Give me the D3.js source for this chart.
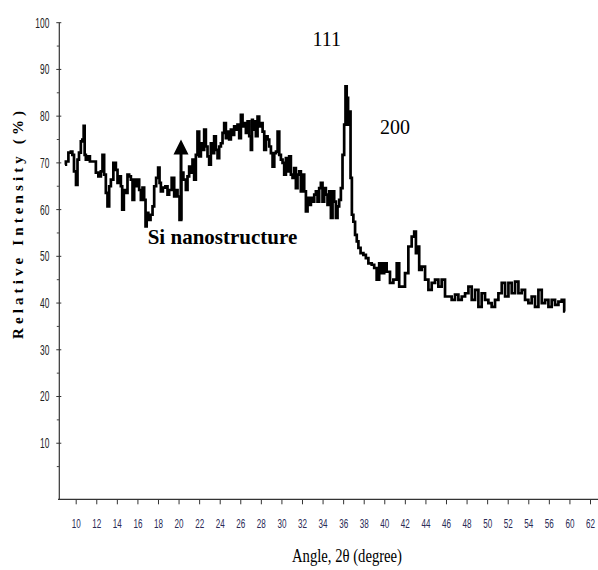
<!DOCTYPE html>
<html>
<head>
<meta charset="utf-8">
<script src="https://cdn.jsdelivr.net/npm/d3@7"></script>
<style>
  body { margin: 0; background: #fff; }
  svg { display: block; }
</style>
</head>
<body>
<div id="chart"></div>
<script>
var width = 598,
    height = 570;

// x tick labels as printed on the original axis (note: 58 is missing)
var tickLabels = ["10", "12", "14", "16", "18", "20", "22", "24", "26", "28", "30", "32", "34",
    "36", "38", "40", "42", "44", "46", "48", "50", "52", "54", "56", "60", "62"];
var yMajor = [10, 20, 30, 40, 50, 60, 70, 80, 90, 100];
var yMinor = [5, 15, 25, 35, 45, 55, 65, 75, 85, 95];

// XRD pattern: angle (2theta) and relative intensity (%)
var angle = [8.96, 9.13, 9.45, 9.61, 9.74, 9.93, 10.13, 10.22, 10.42, 10.58, 10.71, 10.84, 10.90, 11.07, 11.20,
    11.56, 11.88, 12.04, 12.36, 12.53, 12.68, 12.85, 13.01, 13.17, 13.34, 13.50, 13.82, 13.99, 14.14, 14.31,
    14.47, 14.57, 14.79, 14.96, 15.11, 15.28, 15.45, 15.60, 15.77, 15.93, 16.09, 16.25, 16.42, 16.57, 16.74,
    16.84, 16.96, 17.16, 17.39, 17.55, 17.71, 17.93, 18.10, 18.20, 18.36, 18.59, 18.85, 19.00, 19.17, 19.49,
    19.66, 19.82, 19.98, 20.21, 20.31, 20.63, 20.79, 20.95, 21.11, 21.28, 21.43, 21.60, 21.76, 21.92, 22.09,
    22.25, 22.41, 22.57, 22.74, 22.89, 23.06, 23.22, 23.38, 23.54, 23.71, 23.87, 24.03, 24.20, 24.35, 24.52,
    24.68, 24.84, 25.00, 25.17, 25.32, 25.49, 25.65, 25.81, 25.98, 26.14, 26.30, 26.46, 26.63, 26.79, 26.95,
    27.11, 27.17, 27.27, 27.43, 27.60, 27.76, 27.92, 28.09, 28.25, 28.41, 28.58, 28.73, 28.90, 29.06, 29.22,
    29.39, 29.55, 29.71, 29.87, 30.03, 30.19, 30.35, 30.52, 30.67, 30.84, 31.00, 31.16, 31.32, 31.49, 31.64,
    31.81, 31.97, 32.13, 32.30, 32.46, 32.62, 32.78, 32.95, 33.11, 33.27, 33.43, 33.59, 33.75, 33.92, 34.07,
    34.24, 34.40, 34.56, 34.73, 34.89, 35.05, 35.21, 35.38, 35.53, 35.70, 35.86, 36.02, 36.18, 36.28, 36.41,
    36.55, 36.67, 36.77, 36.93, 37.06, 37.26, 37.39, 37.58, 37.81, 38.13, 38.29, 38.62, 38.94, 39.10, 39.42,
    39.59, 39.91, 40.07, 40.39, 40.72, 41.05, 41.37, 41.53, 41.85, 42.18, 42.50, 42.83, 42.99, 43.16, 43.31,
    43.48, 43.80, 44.13, 44.45, 44.77, 45.10, 45.42, 45.74, 46.07, 46.39, 46.71, 47.04, 47.37, 47.69, 48.02,
    48.34, 48.66, 48.99, 49.31, 49.63, 49.96, 50.28, 50.60, 50.93, 51.26, 51.58, 51.91, 52.23, 52.55, 52.88,
    53.20, 53.52, 53.85, 54.17, 54.49, 54.82, 55.15, 55.47, 55.80, 56.23, 56.88, 57.54, 58.18, 58.82, 59.15];
var intensity = [69.6, 70.3, 72.2, 72.4, 71.7, 68.2, 65.3, 70.7, 72.2, 74.6, 75.0, 77.9, 71.7, 70.7, 71.4,
    70.3, 70.3, 67.9, 67.1, 68.2, 71.7, 67.5, 63.6, 60.7, 65.0, 66.4, 70.0, 68.5, 65.7, 67.1,
    65.0, 60.0, 64.2, 63.6, 67.5, 67.1, 66.4, 62.1, 66.4, 65.0, 66.4, 64.2, 62.1, 64.7, 62.1,
    56.4, 59.3, 57.8, 58.9, 60.7, 65.0, 66.8, 69.0, 65.7, 63.9, 64.7, 65.0, 63.2, 64.2, 66.8,
    62.8, 64.2, 62.8, 57.8, 67.9, 66.4, 64.2, 67.1, 69.2, 67.9, 70.7, 66.4, 71.7, 76.7, 71.4,
    74.2, 72.8, 77.1, 73.5, 71.4, 69.6, 74.2, 72.1, 75.7, 72.8, 71.0, 73.5, 74.2, 76.4, 78.5,
    75.3, 76.7, 75.0, 77.1, 76.0, 77.8, 77.1, 78.2, 75.3, 80.3, 77.8, 78.5, 76.4, 78.9, 75.7,
    72.8, 79.2, 77.1, 78.9, 75.7, 79.9, 77.8, 78.5, 76.7, 72.8, 75.7, 75.0, 73.5, 72.1, 69.2,
    72.1, 72.4, 76.7, 71.7, 70.7, 70.0, 67.5, 71.0, 68.2, 71.4, 67.5, 66.8, 68.9, 64.6, 67.5,
    68.2, 63.9, 67.5, 63.9, 59.6, 62.5, 61.0, 62.5, 61.7, 63.2, 63.9, 61.7, 64.6, 65.7, 61.7,
    64.6, 63.2, 61.0, 63.9, 58.2, 63.9, 61.7, 58.2, 60.7, 62.1, 64.6, 71.7, 78.2, 86.4, 83.9,
    78.2, 81.0, 66.8, 58.9, 57.4, 54.6, 53.2, 51.8, 50.7, 50.3, 49.6, 48.5, 48.2, 47.5, 45.0,
    48.5, 46.4, 48.5, 46.7, 44.3, 45.0, 48.5, 43.5, 43.5, 46.4, 52.1, 54.2, 55.3, 50.7, 52.1,
    47.1, 47.8, 45.0, 42.8, 44.3, 45.0, 43.5, 45.0, 41.4, 41.4, 40.7, 41.8, 40.7, 41.4, 42.1,
    43.5, 40.7, 42.8, 39.2, 42.1, 40.7, 40.0, 39.2, 40.7, 42.1, 44.3, 41.4, 44.3, 42.1, 44.6,
    42.1, 42.8, 40.7, 40.0, 41.4, 39.2, 42.8, 40.0, 40.7, 39.2, 40.7, 39.6, 40.3, 40.7, 38.2];

// annotations: text, angle, intensity (baseline)
var labelText = ["111", "200", "Si nanostructure"];
var labelAngle = [34.4, 41.05, 17.0];
var labelInt = [95.0, 76.2, 52.7];
// arrow pointing at the Si feature
var arrowAngle = 20.24, arrowFrom = 57.8, arrowTo = 75.0;

var data = angle.map(function (a, i) { return {a: a, v: intensity[i]}; });

var svg = d3.select("#chart").append("svg")
    .attr("width", width)
    .attr("height", height);

// axis labels sit at even steps, the curve follows them piece by piece
var xPoint = d3.scalePoint()
    .domain(tickLabels)
    .range([75.7, 590]);
var tickNums = tickLabels.map(Number);
var x = d3.scaleLinear()
    .domain(tickNums)
    .range(tickNums.map(function (t) { return xPoint(String(t)); }));

var y = d3.scaleLinear()
    .domain([-2, 100])
    .range([499.3, 22.7]);

var axisX0 = 59.3;

// y axis
var gy = svg.append("g")
    .attr("transform", "translate(" + axisX0 + ",0)");
gy.append("line")
    .attr("x1", 0).attr("x2", 0)
    .attr("y1", y(100)).attr("y2", y(-2))
    .attr("stroke", "#333").attr("stroke-width", 1.2);
gy.selectAll("line.major")
    .data(yMajor)
    .enter().append("line")
    .attr("class", "major")
    .attr("x1", -3).attr("x2", 2)
    .attr("y1", function (d) { return y(d); })
    .attr("y2", function (d) { return y(d); })
    .attr("stroke", "#333");
gy.selectAll("line.minor")
    .data(yMinor)
    .enter().append("line")
    .attr("class", "minor")
    .attr("x1", -2.5).attr("x2", 0)
    .attr("y1", function (d) { return y(d); })
    .attr("y2", function (d) { return y(d); })
    .attr("stroke", "#444");
gy.selectAll("text.ylab")
    .data(yMajor)
    .enter().append("text")
    .attr("class", "ylab")
    .attr("transform", function (d) { return "translate(-10," + y(d) + ") scale(0.6,1)"; })
    .attr("dy", "0.35em")
    .attr("text-anchor", "end")
    .style("font-family", "'Liberation Sans', Arial, sans-serif")
    .style("font-size", "14px")
    .style("fill", "#222")
    .text(function (d) { return d; });

// x axis
var xAxis = d3.axisBottom(xPoint)
    .tickSizeInner(5)
    .tickSizeOuter(0);
var gx = svg.append("g")
    .attr("transform", "translate(0," + y(-2) + ")")
    .call(xAxis);
gx.select(".domain").remove();
gx.append("line")
    .attr("x1", 58).attr("x2", width)
    .attr("y1", 0).attr("y2", 0)
    .attr("stroke", "#333").attr("stroke-width", 1.2);
gx.selectAll(".tick line").attr("stroke", "#333");
gx.selectAll(".tick text")
    .attr("y", 0)
    .attr("dy", "0.71em")
    .attr("transform", "translate(0,19) scale(0.6,1)")
    .style("font-family", "'Liberation Sans', Arial, sans-serif")
    .style("font-size", "13.5px")
    .style("fill", "#2a2a55");

// curve
var line = d3.line()
    .x(function (d) { return x(d.a); })
    .y(function (d) { return y(d.v); })
    .curve(d3.curveStep);

svg.append("path")
    .datum(data)
    .attr("d", line)
    .attr("fill", "none")
    .attr("stroke", "#000")
    .attr("stroke-width", 2.7)
    .attr("stroke-linejoin", "miter");

// arrow
var ax = x(arrowAngle);
svg.append("line")
    .attr("x1", ax).attr("x2", ax)
    .attr("y1", y(arrowFrom)).attr("y2", y(arrowTo) + 14)
    .attr("stroke", "#000")
    .attr("stroke-width", 3);
svg.append("path")
    .attr("d", "M" + ax + "," + y(arrowTo) + "L" + (ax + 7.5) + "," + (y(arrowTo) + 15) +
        "L" + (ax - 7.5) + "," + (y(arrowTo) + 15) + "Z")
    .attr("fill", "#000");

// annotation text
svg.selectAll("text.note")
    .data(labelText)
    .enter().append("text")
    .attr("class", "note")
    .attr("x", function (d, i) { return x(labelAngle[i]); })
    .attr("y", function (d, i) { return y(labelInt[i]); })
    .attr("text-anchor", function (d, i) { return i < 2 ? "middle" : "start"; })
    .style("font-family", "'Liberation Serif', 'Times New Roman', serif")
    .style("font-size", function (d, i) { return i < 2 ? "20px" : "21px"; })
    .style("font-weight", function (d, i) { return i === 2 ? "bold" : "normal"; })
    .text(function (d) { return d; });

// axis titles
svg.append("text")
    .attr("transform", "translate(23,225) rotate(-90)")
    .attr("text-anchor", "middle")
    .attr("textLength", 228)
    .attr("lengthAdjust", "spacing")
    .style("font-family", "'Liberation Serif', 'Times New Roman', serif")
    .style("font-size", "15px")
    .style("font-weight", "bold")
    .text("Relative Intensity (%)");

svg.append("text")
    .attr("x", 347)
    .attr("y", 562)
    .attr("text-anchor", "middle")
    .attr("textLength", 110)
    .attr("lengthAdjust", "spacingAndGlyphs")
    .style("font-family", "'Liberation Serif', 'Times New Roman', serif")
    .style("font-size", "19px")
    .text("Angle, 2\u03b8 (degree)");
</script>
</body>
</html>
